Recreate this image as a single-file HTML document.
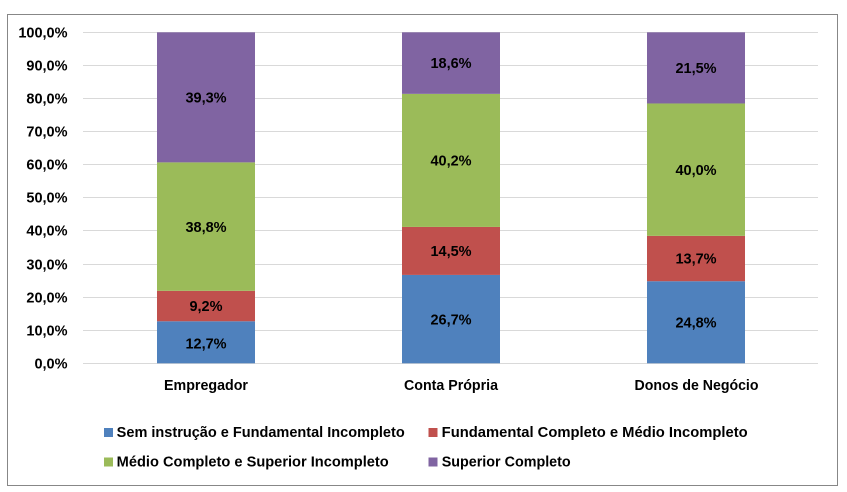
<!DOCTYPE html>
<html><head><meta charset="utf-8"><style>
html,body{margin:0;padding:0;background:#fff;}
svg{display:block;}
text{font-family:"Liberation Sans",Arial,sans-serif;font-weight:bold;fill:#000;}
</style></head><body>
<svg width="847" height="492" viewBox="0 0 847 492" xmlns="http://www.w3.org/2000/svg">
<rect x="0" y="0" width="847" height="492" fill="#fff"/>
<rect x="7.5" y="14.5" width="830" height="471" fill="#fff" stroke="#878787" stroke-width="1"/>
<g stroke="#D9D9D9" stroke-width="1">
<line x1="83" x2="818" y1="32.5" y2="32.5"/>
<line x1="83" x2="818" y1="65.5" y2="65.5"/>
<line x1="83" x2="818" y1="98.5" y2="98.5"/>
<line x1="83" x2="818" y1="131.5" y2="131.5"/>
<line x1="83" x2="818" y1="164.5" y2="164.5"/>
<line x1="83" x2="818" y1="197.5" y2="197.5"/>
<line x1="83" x2="818" y1="230.5" y2="230.5"/>
<line x1="83" x2="818" y1="264.5" y2="264.5"/>
<line x1="83" x2="818" y1="297.5" y2="297.5"/>
<line x1="83" x2="818" y1="330.5" y2="330.5"/>
<line x1="83" x2="818" y1="363.5" y2="363.5"/>
</g>
<g font-size="14.5" text-anchor="end">
<text x="67.5" y="37.5">100,0%</text>
<text x="67.5" y="70.5">90,0%</text>
<text x="67.5" y="103.5">80,0%</text>
<text x="67.5" y="136.5">70,0%</text>
<text x="67.5" y="169.5">60,0%</text>
<text x="67.5" y="202.5">50,0%</text>
<text x="67.5" y="235.5">40,0%</text>
<text x="67.5" y="269.5">30,0%</text>
<text x="67.5" y="302.5">20,0%</text>
<text x="67.5" y="335.5">10,0%</text>
<text x="67.5" y="368.5">0,0%</text>
</g>
<!-- Empregador -->
<rect x="157" y="321.26" width="98" height="42.04" fill="#4F81BD"/>
<rect x="157" y="290.81" width="98" height="30.45" fill="#C0504D"/>
<rect x="157" y="162.38" width="98" height="128.43" fill="#9BBB59"/>
<rect x="157" y="32.3" width="98" height="130.08" fill="#8064A2"/>
<!-- Conta Própria -->
<rect x="402" y="274.92" width="98" height="88.38" fill="#4F81BD"/>
<rect x="402" y="226.93" width="98" height="47.99" fill="#C0504D"/>
<rect x="402" y="93.87" width="98" height="133.06" fill="#9BBB59"/>
<rect x="402" y="32.3" width="98" height="61.57" fill="#8064A2"/>
<!-- Donos de Negócio -->
<rect x="647" y="281.21" width="98" height="82.09" fill="#4F81BD"/>
<rect x="647" y="235.87" width="98" height="45.34" fill="#C0504D"/>
<rect x="647" y="103.47" width="98" height="132.4" fill="#9BBB59"/>
<rect x="647" y="32.3" width="98" height="71.17" fill="#8064A2"/>
<g font-size="14.5" text-anchor="middle">
<text x="206" y="348.5">12,7%</text>
<text x="206" y="311">9,2%</text>
<text x="206" y="231.8">38,8%</text>
<text x="206" y="102.5">39,3%</text>
<text x="451" y="324.3">26,7%</text>
<text x="451" y="256">14,5%</text>
<text x="451" y="165.5">40,2%</text>
<text x="451" y="68.2">18,6%</text>
<text x="696" y="327.5">24,8%</text>
<text x="696" y="263.6">13,7%</text>
<text x="696" y="174.8">40,0%</text>
<text x="696" y="73">21,5%</text>
</g>
<g font-size="14.5">
<text x="164" y="390" textLength="84" lengthAdjust="spacingAndGlyphs">Empregador</text>
<text x="404" y="390" textLength="94" lengthAdjust="spacingAndGlyphs">Conta Própria</text>
<text x="634.5" y="390" textLength="124" lengthAdjust="spacingAndGlyphs">Donos de Negócio</text>
</g>
<rect x="104" y="428" width="9" height="9" fill="#4F81BD"/>
<rect x="428.5" y="428" width="9" height="9" fill="#C0504D"/>
<rect x="104" y="457.5" width="9" height="9" fill="#9BBB59"/>
<rect x="428.5" y="457.5" width="9" height="9" fill="#8064A2"/>
<g font-size="14.5">
<text x="116.7" y="437" textLength="288" lengthAdjust="spacingAndGlyphs">Sem instrução e Fundamental Incompleto</text>
<text x="441.7" y="437" textLength="306" lengthAdjust="spacingAndGlyphs">Fundamental Completo e Médio Incompleto</text>
<text x="116.7" y="466.5" textLength="272" lengthAdjust="spacingAndGlyphs">Médio Completo e Superior Incompleto</text>
<text x="441.7" y="466.5" textLength="129" lengthAdjust="spacingAndGlyphs">Superior Completo</text>
</g>
</svg>
</body></html>
